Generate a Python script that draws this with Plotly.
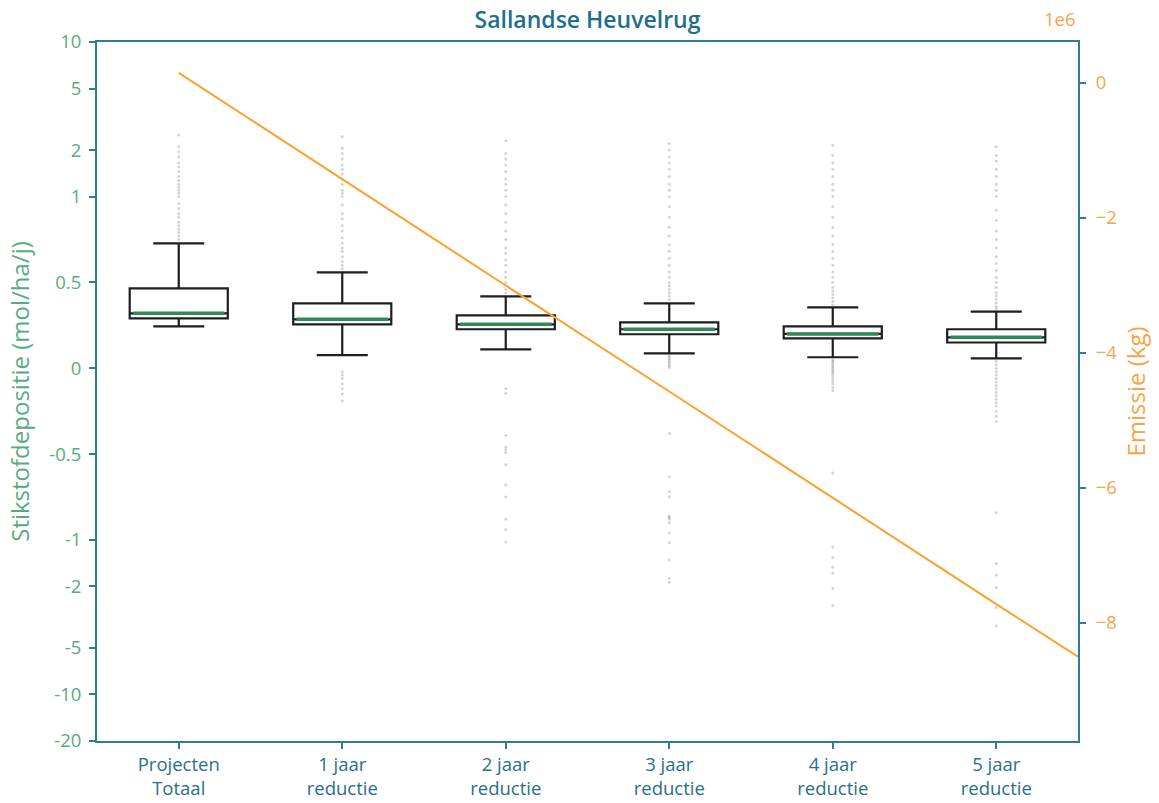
import math
import plotly.graph_objects as go

# ---------------- data ----------------
categories = ["Projecten<br>Totaal", "1 jaar<br>reductie", "2 jaar<br>reductie",
              "3 jaar<br>reductie", "4 jaar<br>reductie", "5 jaar<br>reductie"]

q1 = [0.29, 0.256, 0.227, 0.198, 0.174, 0.15]
median = [0.32, 0.285, 0.256, 0.227, 0.2, 0.18]
q3 = [0.465, 0.378, 0.308, 0.267, 0.244, 0.227]
lowerfence = [0.244, 0.076, 0.11, 0.087, 0.064, 0.058]
upperfence = [0.727, 0.558, 0.419, 0.378, 0.355, 0.33]

outliers_0 = [0.75, 0.77, 0.79, 0.81, 0.83, 0.85, 0.88, 0.9, 0.93, 0.96, 1.0, 1.05, 1.1,
              1.15, 1.2, 1.27, 1.35, 1.45, 1.55, 1.65, 1.8, 1.95, 2.1, 2.5]
outliers_1 = [0.58, 0.6, 0.62, 0.65, 0.68, 0.7, 0.73, 0.76, 0.8, 0.83, 0.87, 0.9, 0.95, 1.0,
              1.05, 1.1, 1.2, 1.3, 1.4, 1.5, 1.6, 1.75, 1.9, 2.05, 2.45,
              -0.02, -0.04, -0.06, -0.09, -0.12, -0.15, -0.19]
outliers_2 = [0.44, 0.46, 0.48, 0.5, 0.53, 0.56, 0.6, 0.63, 0.67, 0.7, 0.75, 0.8, 0.85, 0.9,
              0.95, 1.0, 1.1, 1.2, 1.3, 1.45, 1.6, 1.75, 1.9, 2.3,
              -0.12, -0.145, -0.39, -0.46, -0.475, -0.49, -0.56, -0.68, -0.75, -0.88, -0.94, -1.03]
outliers_3 = [0.4, 0.42, 0.44, 0.46, 0.48, 0.5, 0.53, 0.56, 0.6, 0.64, 0.68, 0.72, 0.77, 0.82,
              0.88, 0.94, 1.0, 1.1, 1.2, 1.35, 1.5, 1.65, 1.8, 2.0, 2.2,
              0.075, 0.065, 0.055, 0.045, 0.035, 0.025, 0.015, 0.005,
              -0.38, -0.63, -0.72, -0.75, -0.86, -0.87, -0.88, -0.9, -0.96, -1.04, -1.35, -1.77, -1.88]
outliers_4 = [0.37, 0.39, 0.41, 0.43, 0.45, 0.47, 0.5, 0.53, 0.56, 0.6, 0.64, 0.68, 0.72, 0.77,
              0.82, 0.88, 0.94, 1.0, 1.1, 1.2, 1.35, 1.5, 1.65, 1.85, 2.15,
              0.05, 0.04, 0.03, 0.02, 0.01, 0.0, -0.01, -0.02, -0.03, -0.045, -0.06, -0.075,
              -0.09, -0.11, -0.13, -0.61, -1.11, -1.3, -1.5, -1.64, -2.06, -2.66]
outliers_5 = [0.345, 0.36, 0.38, 0.4, 0.42, 0.44, 0.47, 0.5, 0.53, 0.57, 0.61, 0.65, 0.7, 0.75,
              0.8, 0.86, 0.92, 1.0, 1.1, 1.2, 1.35, 1.5, 1.7, 1.85, 2.1,
              0.04, 0.02, 0.0, -0.02, -0.04, -0.06, -0.08, -0.1, -0.12, -0.14, -0.16, -0.18,
              -0.2, -0.22, -0.25, -0.28, -0.31, -0.84, -1.42, -1.69, -2.03, -2.74, -3.6]
outliers = [outliers_0, outliers_1, outliers_2, outliers_3, outliers_4, outliers_5]

emission_x = [0, 1, 2, 3, 4, 5, 5.5]
emission_kg = [0.15e6, -1.43e6, -3.0e6, -4.57e6, -6.15e6, -7.72e6, -8.5e6]

left_ticks = [10, 5, 2, 1, 0.5, 0, -0.5, -1, -2, -5, -10, -20]
left_ticklabels = ["10", "5", "2", "1", "0.5", "0", "-0.5", "-1", "-2", "-5", "-10", "-20"]
right_ticks = [0, -2e6, -4e6, -6e6, -8e6]
right_ticklabels = ["0", "\u22122", "\u22124", "\u22126", "\u22128"]

# ------------- symlog transform (linthresh=1, base 10) -------------
LINSCALE = 1.0 / (1 - 1 / 10.0)


def symlog(v):
    a = abs(v)
    if a <= 1:
        return v * LINSCALE
    s = 1 if v > 0 else -1
    return s * (LINSCALE + math.log10(a))


AXIS = "#2f7b99"
GREEN_TXT = "#5aaa80"
ORANGE = "#ffa02a"
ORANGE_TXT = "#f7a548"
FONT = "Open Sans"
TICK = 18.5

xs = list(range(len(categories)))
box_w = 0.6

fig = go.Figure()

# outliers
ox, oy = [], []
for i, vals in enumerate(outliers):
    for v in vals:
        ox.append(i)
        oy.append(symlog(v))
fig.add_trace(go.Scatter(x=ox, y=oy, mode="markers",
                         marker=dict(size=3, color="rgba(60,60,60,0.22)", line=dict(width=0)),
                         showlegend=False, hoverinfo="skip"))

fig.add_trace(go.Box(
    x=xs,
    q1=[symlog(v) for v in q1],
    median=[symlog(v) for v in median],
    q3=[symlog(v) for v in q3],
    lowerfence=[symlog(v) for v in lowerfence],
    upperfence=[symlog(v) for v in upperfence],
    width=box_w, whiskerwidth=0.52,
    fillcolor="white", line=dict(color="#1e1e1e", width=2.2),
    boxpoints=False, showlegend=False))

# green median lines
for i, m in enumerate(median):
    fig.add_trace(go.Scatter(x=[i - box_w / 2 + 0.02, i + box_w / 2 - 0.02],
                             y=[symlog(m), symlog(m)], mode="lines",
                             line=dict(color="#2e8b57", width=3.5),
                             showlegend=False, hoverinfo="skip"))

fig.add_trace(go.Scatter(x=emission_x, y=emission_kg, mode="lines", yaxis="y2",
                         line=dict(color=ORANGE, width=2), showlegend=False))

fig.update_layout(
    width=1159, height=803,
    margin=dict(l=97, r=81, t=42, b=62),
    paper_bgcolor="white", plot_bgcolor="white",
    font=dict(family=FONT, size=TICK),
    title=dict(text="Sallandse Heuvelrug", x=0.5, xref="paper", xanchor="center",
               y=0.975, yref="container", yanchor="middle",
               font=dict(family=FONT, size=23, color="#1f6e8c", weight=600)),
    xaxis=dict(range=[-0.5, 5.5], tickvals=xs, ticktext=categories, automargin=False,
               showline=True, mirror=True, linecolor=AXIS, linewidth=2,
               ticks="outside", ticklen=6, tickcolor=AXIS, tickwidth=1.5,
               tickfont=dict(color="#2a6f8a", size=TICK), showgrid=False, zeroline=False),
    yaxis=dict(range=[symlog(-20), symlog(10)], automargin=False,
               tickvals=[symlog(v) for v in left_ticks], ticktext=left_ticklabels,
               showline=True, linecolor=AXIS, linewidth=2,
               ticks="outside", ticklen=6, tickcolor=AXIS, tickwidth=1.5, ticklabelstandoff=4,
               tickfont=dict(color=GREEN_TXT, size=TICK), showgrid=False, zeroline=False,
               title=dict(text="Stikstofdepositie (mol/ha/j)", font=dict(color=GREEN_TXT, size=24),
                          standoff=13)),
    yaxis2=dict(overlaying="y", side="right", range=[-9.748e6, 0.607e6], automargin=False,
                tickvals=right_ticks, ticktext=right_ticklabels,
                showline=True, linecolor=AXIS, linewidth=2,
                ticks="outside", ticklen=6, tickcolor=AXIS, tickwidth=1.5, ticklabelstandoff=6,
                tickfont=dict(color=ORANGE_TXT, size=TICK), showgrid=False, zeroline=False,
                title=dict(text="Emissie (kg)", font=dict(color=ORANGE_TXT, size=24), standoff=12)),
    annotations=[dict(text="1e6", xref="paper", yref="paper", x=1.0, y=1.0,
                      xanchor="right", yanchor="bottom", yshift=9, showarrow=False,
                      font=dict(color=ORANGE_TXT, size=TICK, family=FONT))],
)

fig.write_html("out.html", config={"displayModeBar": False},
               post_script="document.body.style.margin='0';")
